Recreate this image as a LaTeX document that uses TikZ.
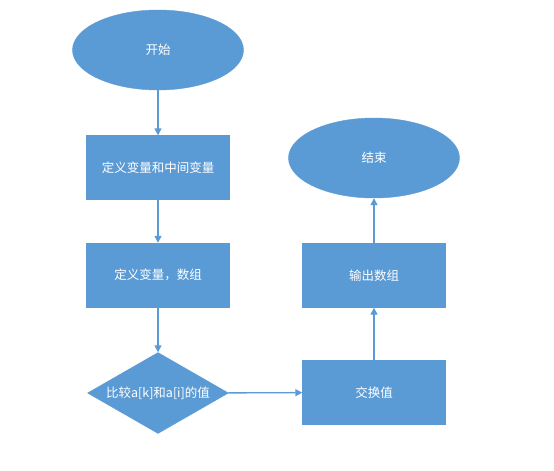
\documentclass[tikz,border=0pt]{standalone}
\usepackage{fontspec}
\newfontfamily\cjk{Noto Sans CJK SC}
\usetikzlibrary{arrows.meta, positioning, shapes.geometric}
\definecolor{flowblue}{HTML}{5B9BD5}
\tikzset{
    stepbox/.style={rectangle, draw=flowblue, fill=flowblue, text=white, minimum width=143pt, minimum height=64pt, inner sep=0pt, font=\cjk\fontsize{12.5pt}{14pt}\selectfont},
    termbox/.style={ellipse, draw=flowblue, fill=flowblue, text=white, minimum width=171pt, minimum height=80pt, inner sep=0pt, font=\cjk\fontsize{12.5pt}{14pt}\selectfont},
    testbox/.style={diamond, draw=flowblue, fill=flowblue, text=white, aspect=1.74, minimum width=141pt, minimum height=81pt, inner sep=0pt, font=\cjk\fontsize{12.5pt}{14pt}\selectfont},
    flowarrow/.style={draw=flowblue, line width=1.4pt, -{Triangle[length=7pt,width=7pt]}}
}
\begin{document}
\begin{tikzpicture}[x=1pt, y=-1pt]
    \useasboundingbox (0,0) rectangle (554,471);
    % left column
    \node[termbox] (start) at (158,50) {开始};
    \node[stepbox] (defmid) at (158,167.5) {定义变量和中间变量};
    \node[stepbox] (defarr) at (158,275) {定义变量，数组};
    \node[testbox] (cmp) at (158,393) {比较a[k]和a[i]的值};
    % right column
    \node[stepbox] (swap) at (374,392.5) {交换值};
    \node[stepbox] (out) at (374,275.5) {输出数组};
    \node[termbox] (stop) at (374,158) {结束};
    % connectors
    \draw[flowarrow] (start) -- (defmid);
    \draw[flowarrow] (defmid) -- (defarr);
    \draw[flowarrow] (defarr) -- (cmp);
    \draw[flowarrow] (cmp) -- (swap);
    \draw[flowarrow] (swap) -- (out);
    \draw[flowarrow] (out) -- (stop);
\end{tikzpicture}
\end{document}
